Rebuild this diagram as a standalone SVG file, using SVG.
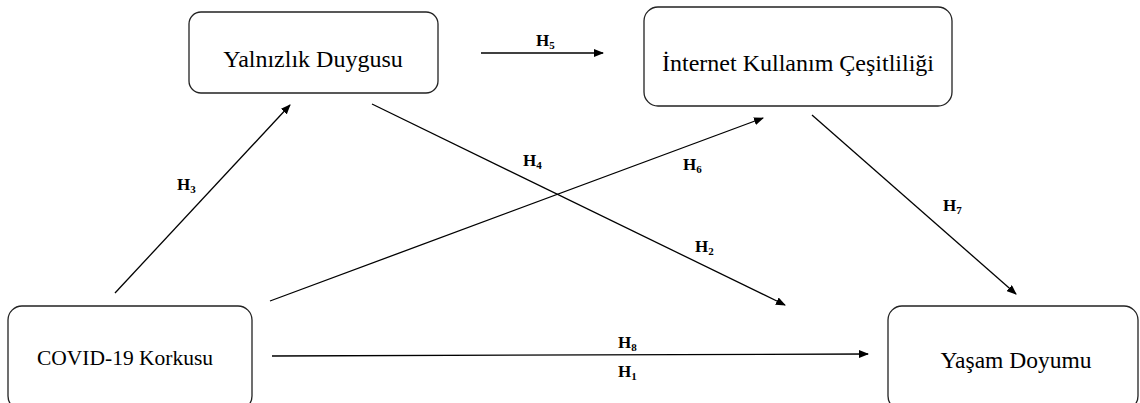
<svg xmlns="http://www.w3.org/2000/svg" width="1140" height="403" viewBox="0 0 1140 403">
<defs>
<marker id="arr" markerWidth="10" markerHeight="8" refX="9" refY="4" orient="auto" markerUnits="userSpaceOnUse">
<path d="M0,0 L10,4 L0,8 Z" fill="#000"/>
</marker>
</defs>
<style>
.box{fill:#fff;stroke:#222;stroke-width:1.3}
.nt{font-family:'Liberation Serif','Times New Roman',serif;fill:#000;text-anchor:middle}
.ln{stroke:#000;stroke-width:1.3;fill:none;marker-end:url(#arr)}
.h{font-family:'Liberation Serif','Times New Roman',serif;font-weight:bold;font-size:17px;fill:#000}
.s{font-size:11px}
</style>
<rect width="1140" height="403" fill="#fff"/>
<g id="connectors">
<line class="ln" x1="481" y1="53" x2="603" y2="53"/>
<line class="ln" x1="115" y1="293" x2="290" y2="105"/>
<line class="ln" x1="372" y1="104" x2="785" y2="305"/>
<line class="ln" x1="270" y1="301" x2="763" y2="118"/>
<line class="ln" x1="812" y1="115" x2="1016" y2="294"/>
<line class="ln" x1="272" y1="356" x2="868" y2="354"/>
</g>
<g id="labels">
<text class="h" x="536" y="46">H<tspan class="s" dy="3">5</tspan></text>
<text class="h" x="177" y="190">H<tspan class="s" dy="3">3</tspan></text>
<text class="h" x="523" y="166">H<tspan class="s" dy="3">4</tspan></text>
<text class="h" x="683" y="170">H<tspan class="s" dy="3">6</tspan></text>
<text class="h" x="695" y="252">H<tspan class="s" dy="3">2</tspan></text>
<text class="h" x="943" y="211">H<tspan class="s" dy="3">7</tspan></text>
<text class="h" x="618" y="348">H<tspan class="s" dy="3">8</tspan></text>
<text class="h" x="618" y="377">H<tspan class="s" dy="3">1</tspan></text>
</g>
<g id="node-yalnizlik">
<rect class="box" x="189" y="12" width="249" height="81" rx="12"/>
<text class="nt" x="313" y="67" font-size="24">Yalnızlık Duygusu</text>
</g>
<g id="node-internet">
<rect class="box" x="644" y="7" width="308" height="99" rx="14"/>
<text class="nt" x="798" y="71" font-size="24">İnternet Kullanım Çeşitliliği</text>
</g>
<g id="node-covid">
<rect class="box" x="8" y="306" width="244" height="104" rx="14"/>
<text class="nt" x="125" y="365" font-size="21.5">COVID-19 Korkusu</text>
</g>
<g id="node-yasam">
<rect class="box" x="888" y="306" width="250" height="104" rx="14"/>
<text class="nt" x="1016" y="368" font-size="23.5">Yaşam Doyumu</text>
</g>
</svg>
